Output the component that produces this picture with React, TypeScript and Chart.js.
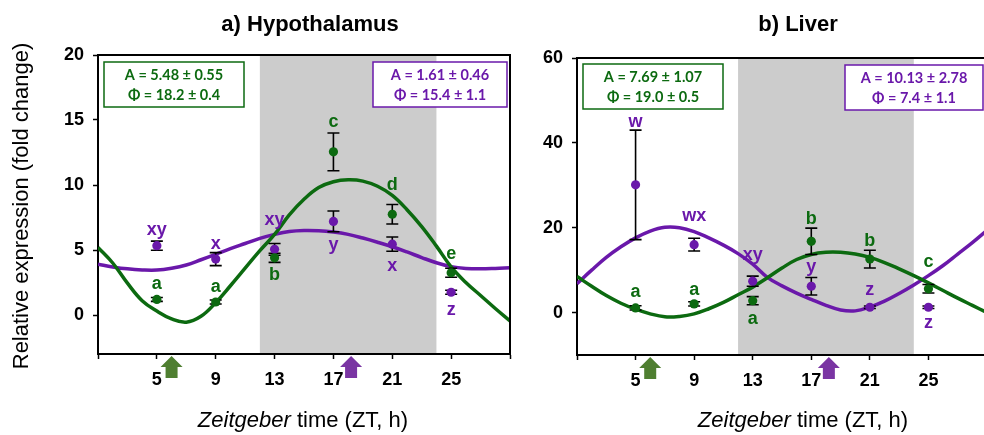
import React, { useEffect, useRef } from 'react';
import { Chart, registerables } from 'chart.js';

Chart.register(...registerables);

// ---------- shared data ----------
const sampleTimes = [5, 9, 13, 17, 21, 25];
const xTickValues = [1, 5, 9, 13, 17, 21, 25, 29];
const xTickLabels = ['', '5', '9', '13', '17', '21', '25', ''];
const curveTimes = [1, 2, 3, 4, 5, 6, 7, 8, 9, 10, 11, 12, 13, 14, 15, 16, 17, 18, 19, 20, 21, 22, 23, 24, 25, 26, 27, 28, 29];
const darkPhase = [12, 24];
const arrowTimes = [6.0, 18.2]; // green, purple
const xRange = [1, 29];

// ---------- a) Hypothalamus ----------
const hypoTitle = 'a) Hypothalamus';
const hypoYRange = [-3, 20];
const hypoYTicks = [0, 5, 10, 15, 20];
const hypoGreenMean = [1.2, 1.0, 4.4, 12.55, 7.75, 3.25];
const hypoGreenSem = [0.15, 0.15, 0.35, 1.45, 0.75, 0.35];
const hypoGreenLetters = ['a', 'a', 'b', 'c', 'd', 'e'];
const hypoGreenLetterY = [2.4, 2.1, 3.05, 14.85, 9.95, 4.65];
const hypoPurpleMean = [5.33, 4.3, 5.05, 7.2, 5.45, 1.75];
const hypoPurpleSem = [0.35, 0.5, 0.45, 0.8, 0.55, 0.15];
const hypoPurpleLetters = ['xy', 'x', 'xy', 'y', 'x', 'z'];
const hypoPurpleLetterY = [6.54, 5.41, 7.27, 5.33, 3.76, 0.4];
const hypoGreenCurve = [5.2, 4.0, 2.45, 1.1, 0.3, -0.3, -0.55, -0.1, 0.95, 2.25, 3.6, 4.95, 6.2, 7.7, 8.9, 9.8, 10.25, 10.4, 10.3, 9.9, 9.2, 8.1, 6.8, 5.3, 3.7, 2.5, 1.5, 0.5, -0.45];
const hypoPurpleCurve = [3.9, 3.7, 3.55, 3.47, 3.46, 3.6, 3.85, 4.25, 4.67, 5.1, 5.5, 5.9, 6.2, 6.42, 6.5, 6.48, 6.38, 6.2, 5.92, 5.6, 5.25, 4.85, 4.42, 4.02, 3.72, 3.58, 3.55, 3.58, 3.63];
const hypoGreenFit = ['A = 5.48 ± 0.55', 'Φ = 18.2 ± 0.4'];
const hypoPurpleFit = ['A = 1.61 ± 0.46', 'Φ = 15.4 ± 1.1'];

// ---------- b) Liver ----------
const liverTitle = 'b) Liver';
const liverYRange = [-10, 60];
const liverYTicks = [0, 20, 40, 60];
const liverGreenMean = [1.1, 2.05, 2.8, 16.8, 12.6, 5.6];
const liverGreenSem = [0.5, 0.5, 0.95, 3.1, 2.1, 1.0];
const liverGreenLetters = ['a', 'a', 'a', 'b', 'b', 'c'];
const liverGreenLetterY = [4.7, 5.3, -1.6, 21.95, 16.9, 11.8];
const liverPurpleMean = [30.1, 16.0, 7.4, 6.2, 1.25, 1.25];
const liverPurpleSem = [12.9, 1.5, 1.2, 2.05, 0.3, 0.3];
const liverPurpleLetters = ['w', 'wx', 'xy', 'y', 'z', 'z'];
const liverPurpleLetterY = [44.9, 22.75, 13.5, 10.75, 5.2, -2.6];
const liverGreenCurve = [8.5, 6.2, 4.0, 2.2, 0.8, -0.3, -1.0, -0.9, -0.3, 0.9, 2.4, 4.2, 6.0, 8.2, 10.5, 12.5, 13.7, 14.2, 14.2, 13.8, 13.0, 11.8, 10.3, 8.7, 7.0, 5.2, 3.4, 1.7, 0.0];
const liverPurpleCurve = [6.8, 10.0, 13.0, 15.5, 17.6, 19.2, 20.1, 20.0, 19.1, 17.6, 15.9, 13.9, 11.4, 8.3, 6.3, 4.6, 3.1, 1.7, 0.6, 0.4, 1.3, 2.7, 4.5, 6.5, 8.7, 11.1, 13.8, 16.5, 19.4];
const liverGreenFit = ['A = 7.69 ± 1.07', 'Φ = 19.0 ± 0.5'];
const liverPurpleFit = ['A = 10.13 ± 2.78', 'Φ = 7.4 ± 1.1'];

const yAxisTitle = 'Relative expression (fold change)';
const xAxisTitleItalic = 'Zeitgeber';
const xAxisTitleRest = ' time (ZT, h)';

// ---------- styles ----------
const GREEN = '#0c6a10';
const PURPLE = '#6a18aa';
const GREEN_ARROW = '#4f7f31';
const PURPLE_ARROW = '#7a35a3';
const SHADE = '#cccccc';
const FONT = "'Liberation Sans', Arial, sans-serif";
const BOX_FONT = "Lato, 'DejaVu Sans', sans-serif";

type Series = { mean: number[]; sem: number[]; letters: string[]; letterY: number[]; curve: number[]; fit: string[]; color: string };
type PanelCfg = {
  title: string;
  yRange: number[];
  yTicks: number[];
  green: Series;
  purple: Series;
  canvasLeft: number;
  canvasWidth: number;
  yAxisWidth: number;
  padTop: number;
  padRight: number;
  xAxisHeight: number;
  titleX: number;
  xTitleX: number;
  showYTitle: boolean;
  greenBox: { dx: number; dy: number; w: number };
  purpleBox: { dxRight: number; dy: number; w: number };
};

const xy = (xs: number[], ys: number[]) => xs.map((x, i) => ({ x, y: ys[i] }));

function makePlugin(cfg: PanelCfg) {
  return {
    id: 'panelDecor',
    beforeDraw(chart: any) {
      const { ctx, chartArea } = chart;
      const xs = chart.scales.x;
      const x1 = xs.getPixelForValue(darkPhase[0]);
      const x2 = xs.getPixelForValue(darkPhase[1]);
      ctx.save();
      ctx.fillStyle = SHADE;
      ctx.fillRect(x1, chartArea.top, x2 - x1, chartArea.bottom - chartArea.top);
      ctx.restore();
    },
    beforeDatasetDraw(chart: any, args: any) {
      if (args.index !== 1) return;
      const { ctx } = chart;
      const xs = chart.scales.x;
      const ys = chart.scales.y;
      ctx.save();
      ctx.strokeStyle = '#000';
      ctx.lineWidth = 1.6;
      [cfg.green, cfg.purple].forEach((s) => {
        sampleTimes.forEach((t, i) => {
          const x = xs.getPixelForValue(t);
          const yt = ys.getPixelForValue(s.mean[i] + s.sem[i]);
          const yb = ys.getPixelForValue(s.mean[i] - s.sem[i]);
          ctx.beginPath();
          ctx.moveTo(x, yt);
          ctx.lineTo(x, yb);
          ctx.moveTo(x - 6, yt);
          ctx.lineTo(x + 6, yt);
          ctx.moveTo(x - 6, yb);
          ctx.lineTo(x + 6, yb);
          ctx.stroke();
        });
      });
      ctx.restore();
    },
    afterDatasetsDraw(chart: any) {
      const { ctx, chartArea } = chart;
      const xs = chart.scales.x;
      const ys = chart.scales.y;
      ctx.save();
      // letters
      ctx.font = `bold 18px ${FONT}`;
      ctx.textAlign = 'center';
      ctx.textBaseline = 'alphabetic';
      [cfg.green, cfg.purple].forEach((s) => {
        ctx.fillStyle = s.color;
        sampleTimes.forEach((t, i) => {
          ctx.fillText(s.letters[i], xs.getPixelForValue(t), ys.getPixelForValue(s.letterY[i]) + 4.7);
        });
      });
      // fit boxes
      const drawBox = (x: number, y: number, w: number, lines: string[], color: string) => {
        ctx.fillStyle = '#fff';
        ctx.fillRect(x, y, w, 45);
        ctx.strokeStyle = color;
        ctx.lineWidth = 1.5;
        ctx.strokeRect(x, y, w, 45);
        ctx.fillStyle = color;
        ctx.font = `bold 14.5px ${BOX_FONT}`;
        ctx.textAlign = 'center';
        ctx.textBaseline = 'middle';
        ctx.fillText(lines[0], x + w / 2, y + 13);
        ctx.fillText(lines[1], x + w / 2, y + 33);
      };
      drawBox(chartArea.left + cfg.greenBox.dx, chartArea.top + cfg.greenBox.dy, cfg.greenBox.w, cfg.green.fit, cfg.green.color);
      drawBox(chartArea.right - cfg.purpleBox.dxRight - cfg.purpleBox.w, chartArea.top + cfg.purpleBox.dy, cfg.purpleBox.w, cfg.purple.fit, cfg.purple.color);
      ctx.restore();
    },
    afterDraw(chart: any) {
      const { ctx, chartArea } = chart;
      const xs = chart.scales.x;
      ctx.save();
      // frame
      ctx.strokeStyle = '#000';
      ctx.lineWidth = 2;
      ctx.beginPath();
      ctx.moveTo(chartArea.left, chartArea.top);
      ctx.lineTo(chartArea.right, chartArea.top);
      ctx.lineTo(chartArea.right, chartArea.bottom);
      ctx.stroke();
      // arrows
      const b = chartArea.bottom;
      [GREEN_ARROW, PURPLE_ARROW].forEach((c, i) => {
        const x = xs.getPixelForValue(arrowTimes[i]);
        ctx.fillStyle = c;
        ctx.beginPath();
        ctx.moveTo(x, b + 2);
        ctx.lineTo(x + 11, b + 13);
        ctx.lineTo(x + 6, b + 13);
        ctx.lineTo(x + 6, b + 24);
        ctx.lineTo(x - 6, b + 24);
        ctx.lineTo(x - 6, b + 13);
        ctx.lineTo(x - 11, b + 13);
        ctx.closePath();
        ctx.fill();
      });
      // title
      ctx.fillStyle = '#000';
      ctx.font = `bold 22px ${FONT}`;
      ctx.textAlign = 'center';
      ctx.textBaseline = 'alphabetic';
      ctx.fillText(cfg.title, cfg.titleX, 31);
      // x title
      ctx.font = `italic 22px ${FONT}`;
      const w1 = ctx.measureText(xAxisTitleItalic).width;
      ctx.font = `22px ${FONT}`;
      const w2 = ctx.measureText(xAxisTitleRest).width;
      const sx = cfg.xTitleX - (w1 + w2) / 2;
      ctx.textAlign = 'left';
      ctx.font = `italic 22px ${FONT}`;
      ctx.fillText(xAxisTitleItalic, sx, 427);
      ctx.font = `22px ${FONT}`;
      ctx.fillText(xAxisTitleRest, sx + w1, 427);
      // y title
      if (cfg.showYTitle) {
        ctx.translate(28, 206);
        ctx.rotate(-Math.PI / 2);
        ctx.textAlign = 'center';
        ctx.font = `22px ${FONT}`;
        ctx.fillText(yAxisTitle, 0, 0);
      }
      ctx.restore();
    },
  };
}

function buildConfig(cfg: PanelCfg): any {
  const tickFont = { family: FONT, size: 18, weight: 'bold' as const };
  return {
    type: 'scatter',
    data: {
      datasets: [
        { type: 'scatter', data: xy(sampleTimes, cfg.green.mean), backgroundColor: cfg.green.color, borderColor: cfg.green.color, borderWidth: 0, pointRadius: 4.6, pointHoverRadius: 4.6 },
        { type: 'scatter', data: xy(sampleTimes, cfg.purple.mean), backgroundColor: cfg.purple.color, borderColor: cfg.purple.color, borderWidth: 0, pointRadius: 4.6, pointHoverRadius: 4.6 },
        { type: 'line', data: xy(curveTimes, cfg.green.curve), borderColor: cfg.green.color, borderWidth: 3.5, pointRadius: 0, tension: 0.4, fill: false },
        { type: 'line', data: xy(curveTimes, cfg.purple.curve), borderColor: cfg.purple.color, borderWidth: 3.5, pointRadius: 0, tension: 0.4, fill: false },
      ],
    },
    options: {
      animation: false,
      responsive: false,
      events: [],
      layout: { padding: { left: 0, top: cfg.padTop, right: cfg.padRight, bottom: 0 } },
      plugins: { legend: { display: false }, tooltip: { enabled: false }, title: { display: false } },
      scales: {
        x: {
          type: 'linear',
          min: xRange[0],
          max: xRange[1],
          afterBuildTicks: (s: any) => { s.ticks = xTickValues.map((v) => ({ value: v })); },
          afterFit: (s: any) => { s.height = cfg.xAxisHeight; },
          ticks: {
            callback: (v: number) => { const k = xTickValues.indexOf(v); return k >= 0 ? xTickLabels[k] : ''; },
            font: tickFont, color: '#000', padding: 10, maxRotation: 0, autoSkip: false,
          },
          grid: { drawOnChartArea: false, drawTicks: true, tickLength: 5, tickColor: '#000', tickWidth: 1.5 },
          border: { display: true, color: '#000', width: 2 },
        },
        y: {
          type: 'linear',
          min: cfg.yRange[0],
          max: cfg.yRange[1],
          afterBuildTicks: (s: any) => { s.ticks = cfg.yTicks.map((v) => ({ value: v })); },
          afterFit: (s: any) => { s.width = cfg.yAxisWidth; },
          ticks: { font: tickFont, color: '#000', padding: 9 },
          grid: { drawOnChartArea: false, drawTicks: true, tickLength: 5, tickColor: '#000', tickWidth: 1.5 },
          border: { display: true, color: '#000', width: 2 },
        },
      },
    },
    plugins: [makePlugin(cfg)],
  };
}

const hypoCfg: PanelCfg = {
  title: hypoTitle,
  yRange: hypoYRange,
  yTicks: hypoYTicks,
  green: { mean: hypoGreenMean, sem: hypoGreenSem, letters: hypoGreenLetters, letterY: hypoGreenLetterY, curve: hypoGreenCurve, fit: hypoGreenFit, color: GREEN },
  purple: { mean: hypoPurpleMean, sem: hypoPurpleSem, letters: hypoPurpleLetters, letterY: hypoPurpleLetterY, curve: hypoPurpleCurve, fit: hypoPurpleFit, color: PURPLE },
  canvasLeft: 0,
  canvasWidth: 520,
  yAxisWidth: 98,
  padTop: 55,
  padRight: 10,
  xAxisHeight: 81,
  titleX: 310,
  xTitleX: 303,
  showYTitle: true,
  greenBox: { dx: 6, dy: 7, w: 140 },
  purpleBox: { dxRight: 3, dy: 7, w: 134 },
};

const liverCfg: PanelCfg = {
  title: liverTitle,
  yRange: liverYRange,
  yTicks: liverYTicks,
  green: { mean: liverGreenMean, sem: liverGreenSem, letters: liverGreenLetters, letterY: liverGreenLetterY, curve: liverGreenCurve, fit: liverGreenFit, color: GREEN },
  purple: { mean: liverPurpleMean, sem: liverPurpleSem, letters: liverPurpleLetters, letterY: liverPurpleLetterY, curve: liverPurpleCurve, fit: liverPurpleFit, color: PURPLE },
  canvasLeft: 520,
  canvasWidth: 477,
  yAxisWidth: 57,
  padTop: 58,
  padRight: 10,
  xAxisHeight: 80,
  titleX: 278,
  xTitleX: 283,
  showYTitle: false,
  greenBox: { dx: 6, dy: 6, w: 140 },
  purpleBox: { dxRight: 4, dy: 7, w: 138 },
};

function Panel({ cfg }: { cfg: PanelCfg }) {
  const ref = useRef<HTMLCanvasElement>(null);
  useEffect(() => {
    const chart = new Chart(ref.current as HTMLCanvasElement, buildConfig(cfg));
    return () => chart.destroy();
  }, [cfg]);
  return (
    <canvas
      ref={ref}
      width={cfg.canvasWidth}
      height={435}
      style={{ position: 'absolute', left: cfg.canvasLeft, top: 0, width: cfg.canvasWidth, height: 435 }}
    />
  );
}

export default function App() {
  return (
    <div style={{ position: 'absolute', left: 0, top: 0, width: 984, height: 435, overflow: 'hidden', background: '#fff' }}>
      <Panel cfg={hypoCfg} />
      <Panel cfg={liverCfg} />
    </div>
  );
}
